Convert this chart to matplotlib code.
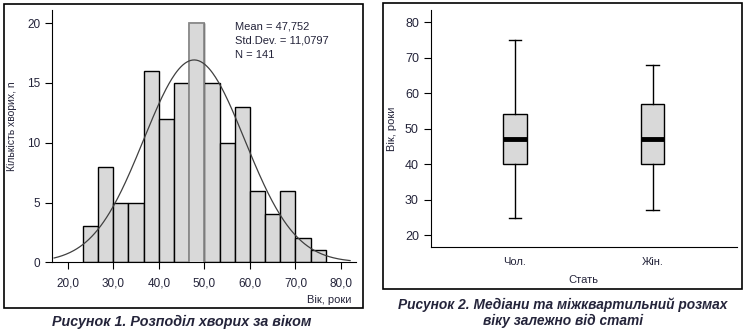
import numpy as np
import matplotlib.pyplot as plt
from matplotlib.patches import Rectangle

# histogram data (age distribution)
bin_start = 23.333
bin_width = 3.3333
counts = [3, 8, 5, 5, 16, 12, 15, 20, 15, 10, 13, 6, 4, 6, 2, 1]
age_mean = 47.752
age_sd = 11.0797
n_total = 141
x_ticks = [20, 30, 40, 50, 60, 70, 80]
y_ticks = [0, 5, 10, 15, 20]

# boxplot data (age by sex)
groups = ['Чол.', 'Жін.']
whislo = [25, 27]
q1 = [40, 40]
med = [47, 47]
q3 = [54, 57]
whishi = [75, 68]
box_ticks = [20, 30, 40, 50, 60, 70, 80]

txt = '#24243a'
plt.rcParams['font.family'] = ['Liberation Sans', 'DejaVu Sans']

fig = plt.figure(figsize=(7.45, 3.31), dpi=100)

# outer frames
fig.patches.append(Rectangle((0.0054, 0.0695), 0.4819, 0.9184, transform=fig.transFigure,
                             fill=False, lw=1.2, ec='black'))
fig.patches.append(Rectangle((0.5141, 0.1269), 0.4819, 0.8631, transform=fig.transFigure,
                             fill=False, lw=1.2, ec='black'))

# ---- histogram ----
ax1 = fig.add_axes([0.0702, 0.2076, 0.4077, 0.7622])
edges = bin_start + bin_width * np.arange(len(counts) + 1)
lefts = edges[:-1]
ax1.bar(lefts, counts, width=bin_width, align='edge', color='#d9d9d9',
        edgecolor='black', linewidth=1.0)
# highlighted bar around the mean
i_hl = 7
ax1.bar(lefts[i_hl], counts[i_hl] + 0.15, bottom=-0.15, width=bin_width, align='edge',
        color='#d9d9d9', edgecolor='#8a8a8a', linewidth=1.3, zorder=3)

xs = np.linspace(17, 82, 300)
pdf = n_total * bin_width / (age_sd * np.sqrt(2 * np.pi)) * np.exp(-0.5 * ((xs - age_mean) / age_sd) ** 2)
ax1.plot(xs, pdf, color='#404040', lw=0.9, zorder=4)

ax1.set_xlim(16.6, 83.3)
ax1.set_ylim(0, 21.1)
ax1.set_xticks(x_ticks)
ax1.set_xticklabels([f'{v},0' for v in x_ticks])
ax1.set_yticks(y_ticks)
for s in ['top', 'right']:
    ax1.spines[s].set_visible(False)
ax1.tick_params(colors='black', labelcolor=txt, labelsize=8.5, length=5)
ax1.tick_params(axis='x', pad=6)
ax1.set_facecolor('none')

ax1.text(0.601, 0.955, f'Mean = 47,752\nStd.Dev. = 11,0797\nN = {n_total}',
         transform=ax1.transAxes, va='top', ha='left', fontsize=8, color=txt,
         linespacing=1.55)
fig.text(351 / 745, 1 - 300 / 331, 'Вік, роки', ha='right', va='center', fontsize=8, color=txt)
fig.text(12 / 745, 1 - 126 / 331, 'Кількість хворих, n', ha='center', va='center',
         rotation=90, fontsize=7.5, color=txt)
fig.text(182 / 745, 1 - 322 / 331, 'Рисунок 1. Розподіл хворих за віком', ha='center',
         va='center', fontsize=10.3, fontweight='bold', fontstyle='italic', color=txt)

# ---- boxplot ----
ax2 = fig.add_axes([0.5781, 0.2538, 0.4108, 0.716])
stats = []
for i, g in enumerate(groups):
    stats.append(dict(label=g, whislo=whislo[i], q1=q1[i], med=med[i], q3=q3[i],
                      whishi=whishi[i], fliers=[]))
ax2.bxp(stats, positions=[1, 2], widths=0.17, patch_artist=True, showfliers=False,
        boxprops=dict(facecolor='#d9d9d9', edgecolor='black', linewidth=1.0),
        medianprops=dict(color='black', linewidth=3.5, solid_capstyle='butt'),
        whiskerprops=dict(color='black', linewidth=1.0),
        capprops=dict(color='black', linewidth=1.0), capwidths=0.09)
ax2.set_xlim(0.389, 2.611)
ax2.set_ylim(16.7, 83.4)
ax2.set_yticks(box_ticks)
ax2.set_xticks([1, 2])
ax2.set_xticklabels(groups)
for s in ['top', 'right']:
    ax2.spines[s].set_visible(False)
ax2.tick_params(axis='y', colors='black', labelcolor=txt, labelsize=9, length=5)
ax2.tick_params(axis='x', length=0, labelcolor=txt, labelsize=8, pad=7)
ax2.set_ylabel('Вік, роки', fontsize=8, color=txt, labelpad=6)
ax2.set_xlabel('Стать', fontsize=8, color=txt, labelpad=6)

fig.text(563 / 745, 1 - 313 / 331, 'Рисунок 2. Медіани та міжквартильний розмах\nвіку залежно від статі',
         ha='center', va='center', fontsize=9.9, fontweight='bold', fontstyle='italic',
         color=txt, linespacing=1.15)

fig.savefig('out.png', dpi=100)
